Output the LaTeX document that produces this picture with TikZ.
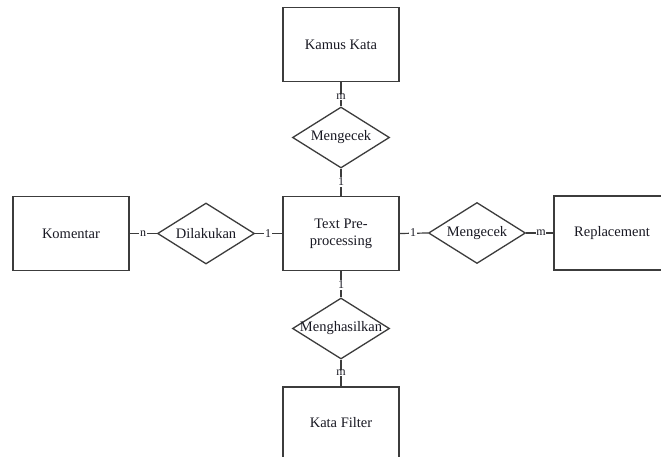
\documentclass[tikz,border=0pt]{standalone}
\usepackage{fontspec}
\setmainfont{Liberation Serif}
\usetikzlibrary{shapes.geometric}
\definecolor{edge}{RGB}{60,60,60}
\definecolor{ink}{RGB}{25,25,35}
\begin{document}
\begin{tikzpicture}[x=1pt,y=-1pt,
  entity/.style={draw=edge,line width=1.5pt,minimum width=116pt,minimum height=74pt,inner sep=0pt,fill=white},
  rel/.style={draw=edge,line width=1.3pt,diamond,minimum width=97pt,minimum height=61pt,inner sep=0pt},
  txt/.style={font=\fontsize{14.5}{17}\selectfont,text=ink,inner sep=0pt,align=center},
  card/.style={font=\fontsize{12}{13}\selectfont,text=ink,fill=white,inner sep=0.6pt},
  conn/.style={draw=edge,line width=1.2pt}]
\clip (0,0) rectangle (661,457);
\fill[white] (0,0) rectangle (661,457);
% entities
\node[entity] (kamus) at (341,44.5) {};
\node[txt] at (kamus) {Kamus Kata};
\node[entity] (tp) at (341,233.5) {};
\node[txt] at (tp) {Text Pre-\\processing};
\node[entity] (kom) at (71,233.5) {};
\node[txt] at (kom) {Komentar};
\node[entity] (rep) at (612,233) {};
\node[txt] at (rep) {Replacement};
\node[entity] (kf) at (341,424) {};
\node[txt] at ([yshift=1pt]kf) {Kata Filter};
% relations
\node[rel] (r1) at (341,137.5) {};
\node[txt] at (r1) {Mengecek};
\node[rel] (r2) at (206,233.5) {};
\node[txt] at (r2) {Dilakukan};
\node[rel] (r3) at (477,233) {};
\node[txt] at (r3) {Mengecek};
\node[rel] (r4) at (341,328.5) {};
\node[txt] at (r4) {Menghasilkan};
% connectors
\draw[conn] (kamus.south) -- (r1.north);
\draw[conn] (r1.south) -- (tp.north);
\draw[conn] (kom.east) -- (r2.west);
\draw[conn] (r2.east) -- (tp.west);
\draw[conn] (tp.east) -- (r3.west);
\draw[conn] (r3.east) -- (rep.west);
\draw[conn] (tp.south) -- (r4.north);
\draw[conn] (r4.south) -- (kf.north);
% cardinalities
\node[card] (c1) at (341,97) {m};
\node[card] (c2) at (341,182) {1};
\node[card] (c3) at (143,233.5) {n};
\node[card] (c4) at (268,233.5) {1};
\node[card] (c5) at (413,233) {1};
\node[card] (c6) at (541,233) {m};
\node[card] (c7) at (341,285) {1};
\node[card] (c8) at (341,373) {m};
\end{tikzpicture}
\end{document}
